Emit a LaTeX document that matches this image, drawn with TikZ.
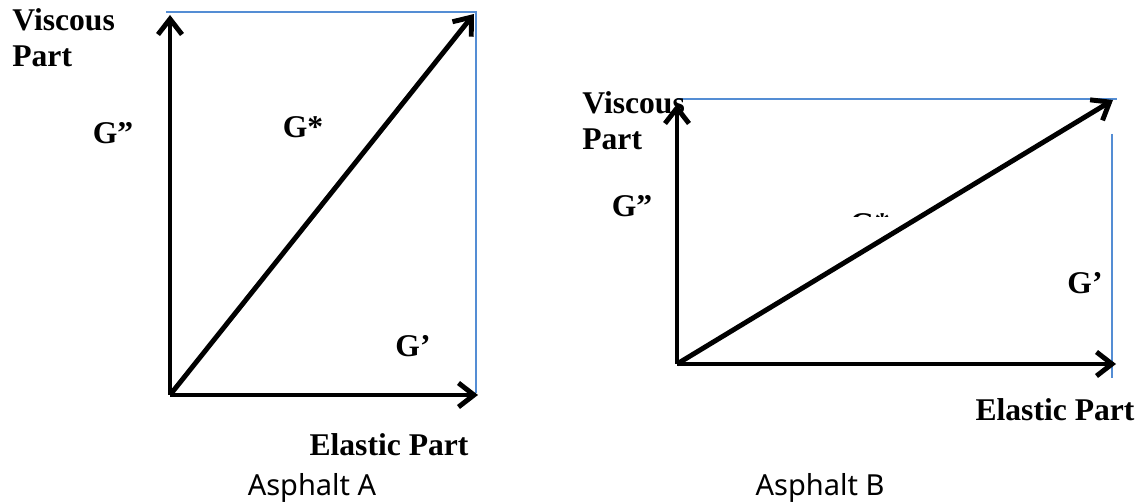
\documentclass[tikz,border=0pt]{standalone}
\usepackage{fontspec}
\setmainfont{Liberation Serif}
\newfontfamily\capfont{Noto Sans}
\usetikzlibrary{arrows.meta}

\definecolor{guideblue}{RGB}{84,141,212}
\tikzset{
  vec/.style={line width=2.8pt, -{Straight Barb[length=3.1mm,width=4.8mm]}},
  guide/.style={draw=guideblue, line width=1pt},
  lbl/.style={font=\bfseries\fontsize{18}{20.5}\selectfont, inner sep=0pt},
  capt/.style={font=\capfont\fontsize{16.5}{19}\selectfont, inner sep=0pt},
}

\begin{document}
\begin{tikzpicture}[x=0.02cm,y=-0.02cm]
  \useasboundingbox (0,0) rectangle (1143,502);

  % Asphalt A
  \coordinate (OA) at (170,395);
  \coordinate (VA) at (170,15);
  \coordinate (EA) at (478,395);
  \coordinate (CA) at (474,14);
  \coordinate (TLA) at (166,12);
  \coordinate (TRA) at (476,12);
  \coordinate (BRA) at (476,393);

  \draw[guide] (TLA) -- (TRA) -- (BRA);
  \draw[vec] (OA) -- (VA);
  \draw[vec] (OA) -- (EA);
  \draw[vec] (OA) -- (CA);

  \node[lbl, anchor=north west, align=left] (viscA) at (12,8) {Viscous\\Part};
  \node[lbl] (gppA) at (113,133) {G”};
  \node[lbl] (gsA) at (303,127) {G*};
  \node[lbl] (gpA) at (413,346) {G’};
  \node[lbl] (elA) at (389,445) {Elastic Part};
  \node[capt] (capA) at (312,488) {Asphalt A};

  % Asphalt B
  \coordinate (OB) at (677,364);
  \coordinate (VB) at (677,104);
  \coordinate (EB) at (1116,364);
  \coordinate (CB) at (1113,100);
  \coordinate (TLB) at (677,99);
  \coordinate (TRB) at (1117,99);
  \coordinate (RTB) at (1112,134);
  \coordinate (RBB) at (1112,378);

  \draw[guide] (TLB) -- (TRB);
  \draw[guide] (RTB) -- (RBB);
  \draw[vec] (OB) -- (VB);
  \draw[vec] (OB) -- (EB);
  \draw[vec] (OB) -- (CB);

  \node[lbl, anchor=north west, align=left] (viscB) at (582,91) {Viscous\\Part};
  \node[lbl] (gppB) at (632,206) {G”};
  \begin{scope}
    \clip (830,200) rectangle (910,217);
    \node[lbl] (gsB) at (870,224) {G*};
  \end{scope}
  \node[lbl] (gpB) at (1085,283) {G’};
  \node[lbl] (elB) at (1055,410) {Elastic Part};
  \node[capt] (capB) at (820,488) {Asphalt B};
\end{tikzpicture}
\end{document}
